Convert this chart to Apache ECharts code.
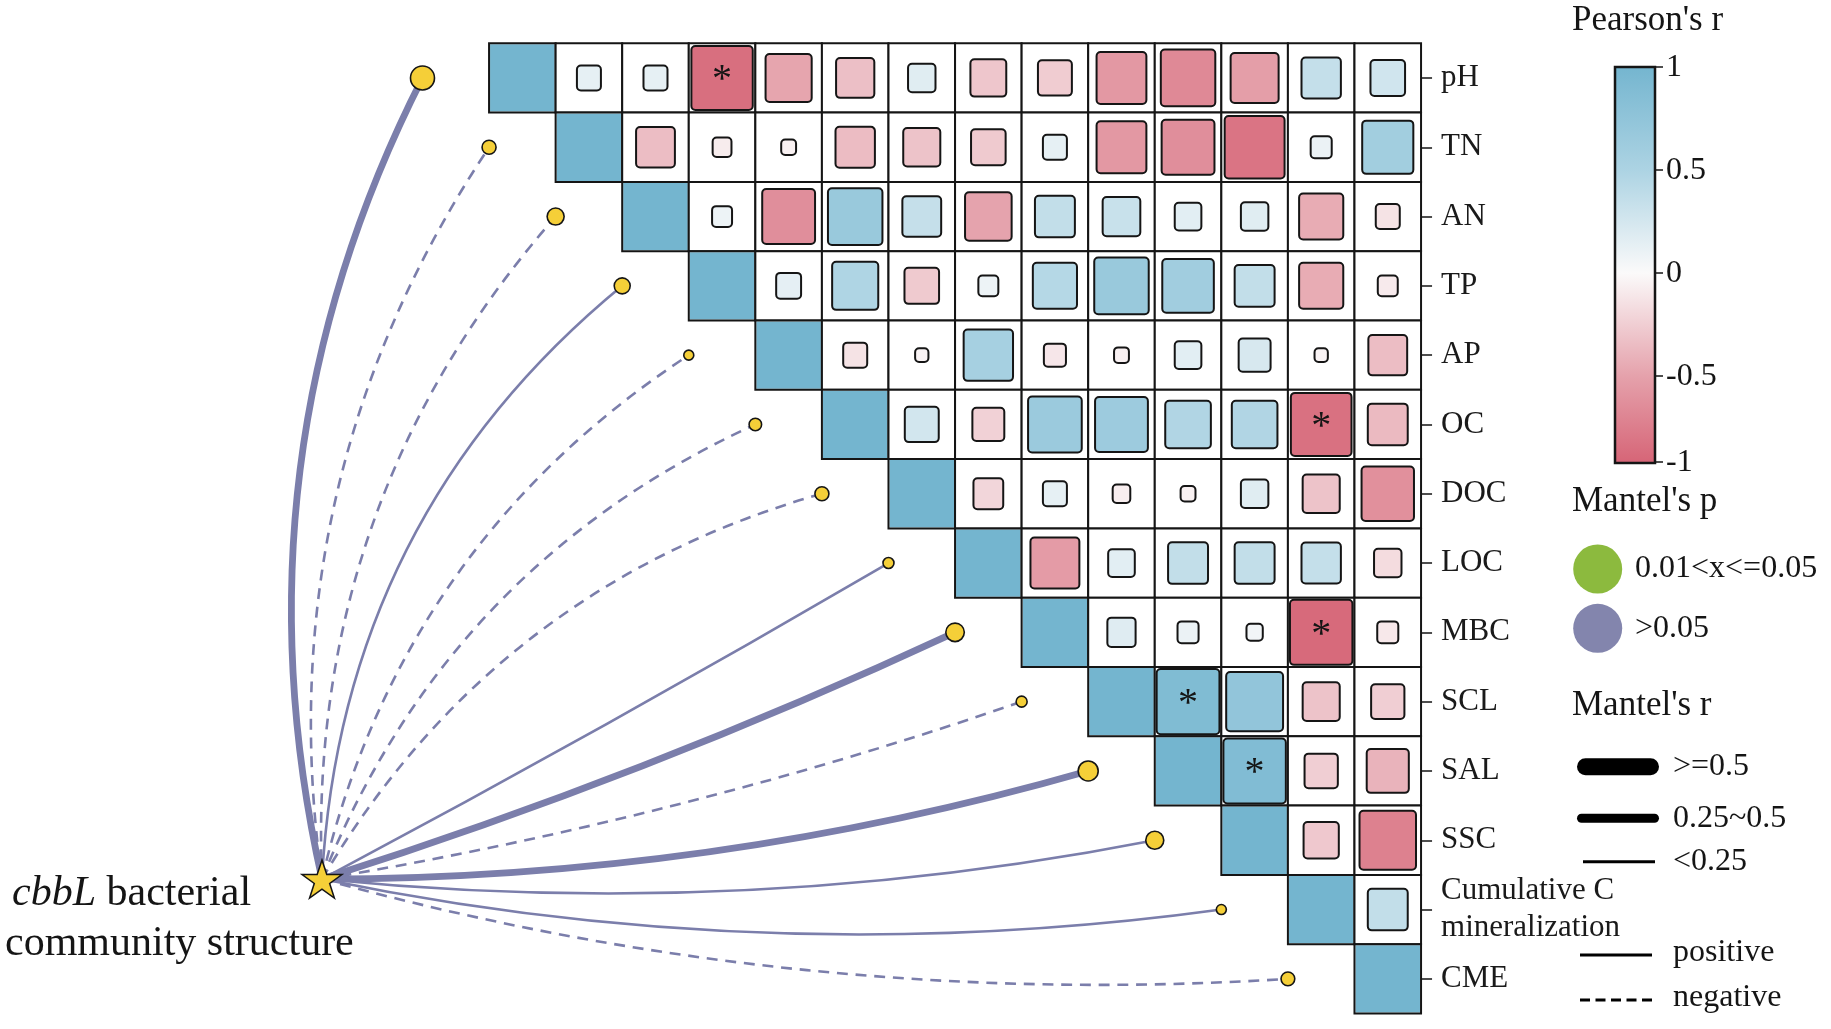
<!DOCTYPE html>
<html>
<head>
<meta charset="utf-8">
<script src="https://cdn.jsdelivr.net/npm/echarts@6/dist/echarts.min.js"></script>
<style>
html,body{margin:0;padding:0;background:#ffffff;}
#chart{width:1831px;height:1029px;}
</style>
</head>
<body>
<div id="chart"></div>
<script>
// ---------------- DATA ----------------
const variables = ['pH','TN','AN','TP','AP','OC','DOC','LOC','MBC','SCL','SAL','SSC','Cumulative C\nmineralization','CME'];

// Pearson's r, upper triangle: row k = r of variables[k] with variables[k+1 .. 13]
const pearsonRows = [
  [0.13, 0.13, -0.85, -0.48, -0.33, 0.17, -0.29, -0.26, -0.56, -0.67, -0.52, 0.35, 0.27],
  [-0.34, -0.08, -0.05, -0.35, -0.31, -0.27, 0.13, -0.56, -0.63, -0.81, 0.10, 0.59],
  [0.09, -0.63, 0.67, 0.34, -0.49, 0.36, 0.32, 0.16, 0.17, -0.44, -0.13],
  [0.14, 0.48, -0.27, 0.09, 0.44, 0.67, 0.60, 0.36, -0.44, -0.09],
  [-0.13, -0.04, 0.55, -0.11, -0.05, 0.16, 0.23, -0.04, -0.34],
  [0.26, -0.23, 0.65, 0.63, 0.47, 0.47, -0.83, -0.36],
  [-0.20, 0.13, -0.07, -0.05, 0.17, -0.31, -0.62],
  [-0.54, 0.16, 0.36, 0.36, 0.35, -0.17],
  [0.18, 0.10, 0.06, -0.88, -0.10],
  [0.89, 0.73, -0.31, -0.25],
  [0.88, -0.25, -0.40],
  [-0.28, -0.72],
  [0.36]
];
// significant pairs [row, column]
const significantPairs = [[0,3],[5,12],[8,12],[9,10],[10,11]];

// Mantel test: cbbL community vs each variable
const mantelR = [0.36, 0.16, 0.22, 0.20, 0.08, 0.13, 0.16, 0.10, 0.25, 0.10, 0.28, 0.24, 0.08, 0.155];
const mantelP = ['>0.05','>0.05','>0.05','>0.05','>0.05','>0.05','>0.05','>0.05','>0.05','>0.05','>0.05','>0.05','>0.05','>0.05'];
const mantelSign = ['positive','negative','negative','positive','negative','negative','negative','positive','positive','negative','positive','positive','positive','negative'];

// legend texts
const colorbarTicks = [1, 0.5, 0, -0.5, -1];
const pClasses = ['0.01<x<=0.05', '>0.05'];
const rClasses = ['>=0.5', '0.25~0.5', '<0.25'];
const signClasses = ['positive', 'negative'];
const speciesName = ['cbbL', ' bacterial', 'community structure'];

// ---------------- STYLE / LAYOUT ----------------
const FONT = '"Liberation Serif", "Times New Roman", serif';
const INK = '#151515';
const corrColors = ['#d3596c', '#e5a1ab', '#fbfafa', '#acd3e3', '#74b5cf'];
const pColor = {'0.01<x<=0.05': '#8cba3e', '>0.05': '#8385ad'};
const linkColor = {'0.01<x<=0.05': '#86b23a', '>0.05': '#7b7eab'};
const rWidthPlot = {'>=0.5': 13, '0.25~0.5': 6.8, '<0.25': 2.6};
const rWidthLegend = {'>=0.5': 17, '0.25~0.5': 9, '<0.25': 3};
const linkBend = [0.09, 0.095, 0.10, 0.11, 0.10, 0.10, 0.10, -0.005, -0.016, -0.021, -0.035, -0.037, -0.043, -0.042];
const starAt = [-2.51, 12.06];
const nodeFill = '#f5cf38';

function rClassOf(r) { return r >= 0.5 ? '>=0.5' : (r >= 0.25 ? '0.25~0.5' : '<0.25'); }

// ---------------- BUILD SERIES DATA ----------------
const cellData = [];
for (let i = 0; i < variables.length; i++) {
  cellData.push([i, i, 1, 0]);
  (pearsonRows[i] || []).forEach((r, k) => {
    const j = i + 1 + k;
    const sig = significantPairs.some(p => p[0] === i && p[1] === j) ? 1 : 0;
    cellData.push([j, i, r, sig]);
  });
}
const nodeData = variables.map((v, i) => [i - 1, i + 0.5, mantelR[i], i]);

function renderCell(params, api) {
  const j = api.value(0), i = api.value(1), r = api.value(2), sig = api.value(3);
  const p0 = api.coord([j, i]);
  const p1 = api.coord([j + 1, i + 1]);
  const w = p1[0] - p0[0], h = p1[1] - p0[1];
  const color = api.visual('color');
  const children = [
    {type: 'rect', shape: {x: p0[0], y: p0[1], width: w, height: h}, style: {fill: '#ffffff'}}
  ];
  if (i === j) {
    children.push({type: 'rect', shape: {x: p0[0] + 1, y: p0[1] + 1, width: w - 2, height: h - 2}, style: {fill: color}});
  } else {
    const s = Math.sqrt(Math.abs(r));
    const sw = w * s, sh = h * s;
    children.push({type: 'rect',
      shape: {x: p0[0] + (w - sw) / 2, y: p0[1] + (h - sh) / 2, width: sw, height: sh, r: 4},
      style: {fill: color, stroke: INK, lineWidth: 2}});
  }
  children.push({type: 'rect', shape: {x: p0[0], y: p0[1], width: w, height: h}, style: {fill: null, stroke: INK, lineWidth: 2}});
  if (sig) {
    children.push({type: 'text', style: {text: '*', x: p0[0] + w / 2, y: p0[1] + h / 2 + 3,
      align: 'center', verticalAlign: 'middle', font: '40px ' + FONT, fill: INK}});
  }
  return {type: 'group', children: children};
}

function renderLink(params, api) {
  const k = api.value(3);
  const S = api.coord(starAt);
  const P = api.coord([api.value(0), api.value(1)]);
  const dx = P[0] - S[0], dy = P[1] - S[1];
  const L = Math.sqrt(dx * dx + dy * dy);
  const nx = dy / L, ny = -dx / L;
  const off = 2 * linkBend[k] * L;
  const cx = (S[0] + P[0]) / 2 + nx * off, cy = (S[1] + P[1]) / 2 + ny * off;
  const w = rWidthPlot[rClassOf(mantelR[k])];
  const dashed = mantelSign[k] === 'negative';
  return {type: 'bezierCurve',
    shape: {x1: S[0], y1: S[1], x2: P[0], y2: P[1], cpx1: cx, cpy1: cy},
    style: {fill: null, stroke: linkColor[mantelP[k]], lineWidth: w,
      lineDash: dashed ? [4.2 * w, 3 * w] : null, lineCap: 'butt'}};
}

// ---------------- LEGEND GRAPHICS ----------------
const graphics = [];
function txt(x, y, text, size, extra) {
  graphics.push(Object.assign({type: 'text', x: x, y: y, silent: true,
    style: {text: text, font: size + 'px ' + FONT, fill: INK, align: 'left', verticalAlign: 'middle'}}, extra || {}));
}
// Pearson's r colorbar
txt(1572, 21, "Pearson's r", 35);
const cb = {x: 1615, top: 67, w: 40, h: 396, unit: 206};
const cbBottomVal = 1 - cb.h / cb.unit;
function cbColor(v) { return echarts.color.lerp((v + 1) / 2, corrColors); }
const cbStops = [1, 0.5, 0, -0.5, cbBottomVal].map(v => ({offset: Math.min(1, (1 - v) * cb.unit / cb.h), color: cbColor(v)}));
graphics.push({type: 'rect', silent: true, shape: {x: cb.x, y: cb.top, width: cb.w, height: cb.h},
  style: {fill: new echarts.graphic.LinearGradient(0, 0, 0, 1, cbStops), stroke: INK, lineWidth: 2.5}});
colorbarTicks.forEach(v => {
  const y = Math.min(cb.top + (1 - v) * cb.unit, cb.top + cb.h - 1);
  graphics.push({type: 'line', silent: true, shape: {x1: cb.x + cb.w, y1: y, x2: cb.x + cb.w + 8, y2: y}, style: {stroke: INK, lineWidth: 1.5}});
  txt(cb.x + cb.w + 11, y + 1, String(v), 32);
});
// Mantel's p
txt(1572, 502, "Mantel's p", 35);
pClasses.forEach((c, k) => {
  const y = 569 + k * 59.3;
  graphics.push({type: 'circle', silent: true, shape: {cx: 1597.7, cy: y, r: 24.5}, style: {fill: pColor[c]}});
  txt(1635, y, c, 32);
});
// Mantel's r
txt(1572, 706, "Mantel's r", 35);
rClasses.forEach((c, k) => {
  const y = [766.7, 818.3, 861.7][k];
  const w = rWidthLegend[c];
  const round = w > 5;
  graphics.push({type: 'line', silent: true,
    shape: {x1: 1577 + (round ? w / 2 : 6), y1: y, x2: 1659 - (round ? w / 2 : 4), y2: y},
    style: {stroke: '#000', lineWidth: w, lineCap: round ? 'round' : 'butt'}});
  txt(1673, y, c, 32);
});
signClasses.forEach((c, k) => {
  const y = 955 + k * 45;
  graphics.push({type: 'line', silent: true, shape: {x1: 1580, y1: y, x2: 1652, y2: y},
    style: {stroke: '#000', lineWidth: 3, lineDash: c === 'negative' ? [10, 5.5] : null}});
  txt(1673, y - 2, c, 32);
});
// species label
graphics.push({type: 'text', x: 12, y: 894, silent: true,
  style: {text: '{i|' + speciesName[0] + '}' + speciesName[1], fontSize: 42, fontFamily: FONT, fill: INK,
    align: 'left', verticalAlign: 'middle',
    rich: {i: {fontStyle: 'italic', fontSize: 42, fontFamily: FONT, fill: INK}}}});
txt(5, 944, speciesName[2], 42);

// ---------------- OPTION ----------------
const chart = echarts.init(document.getElementById('chart'), null, {renderer: 'canvas'});
const option = {
  backgroundColor: '#ffffff',
  animation: false,
  grid: {left: 289.35, top: 43.3, width: 1131.7, height: 970.2, containLabel: false},
  xAxis: {type: 'value', min: -3, max: 14, show: false},
  yAxis: [
    {type: 'value', min: 0, max: 14, inverse: true, show: false},
    {type: 'category', data: variables, inverse: true, position: 'right',
      axisLine: {show: false},
      axisTick: {show: true, alignWithLabel: true, length: 11, lineStyle: {color: INK, width: 1.5}},
      axisLabel: {margin: 20, fontSize: 31, fontFamily: FONT, color: '#1a1a1a', lineHeight: 37, align: 'left'},
      splitLine: {show: false}}
  ],
  visualMap: [
    {type: 'continuous', show: false, seriesIndex: 0, dimension: 2, min: -1, max: 1, inRange: {color: corrColors}},
    {type: 'continuous', show: false, seriesIndex: 2, dimension: 2, min: 0, max: 0.4, inRange: {symbolSize: [6, 26]}}
  ],
  series: [
    {type: 'custom', name: 'pearson', xAxisIndex: 0, yAxisIndex: 0, data: cellData, renderItem: renderCell, z: 2, silent: true},
    {type: 'custom', name: 'mantel', xAxisIndex: 0, yAxisIndex: 0, data: nodeData, renderItem: renderLink, z: 3, silent: true},
    {type: 'scatter', name: 'nodes', xAxisIndex: 0, yAxisIndex: 0, data: nodeData, symbol: 'circle', z: 4, silent: true,
      itemStyle: {color: nodeFill, borderColor: INK, borderWidth: 1.6, opacity: 1}},
    {type: 'scatter', name: 'species', xAxisIndex: 0, yAxisIndex: 0, data: [starAt], z: 5, silent: true,
      symbol: 'path://M50,0 L61.8,35.1 L98.9,35.1 L68.8,57 L80.3,92.3 L50,70.5 L19.7,92.3 L31.2,57 L1.1,35.1 L38.2,35.1 Z',
      symbolSize: [40, 38], itemStyle: {color: nodeFill, borderColor: INK, borderWidth: 1.5, opacity: 1}}
  ],
  graphic: graphics
};
chart.setOption(option);
</script>
</body>
</html>
